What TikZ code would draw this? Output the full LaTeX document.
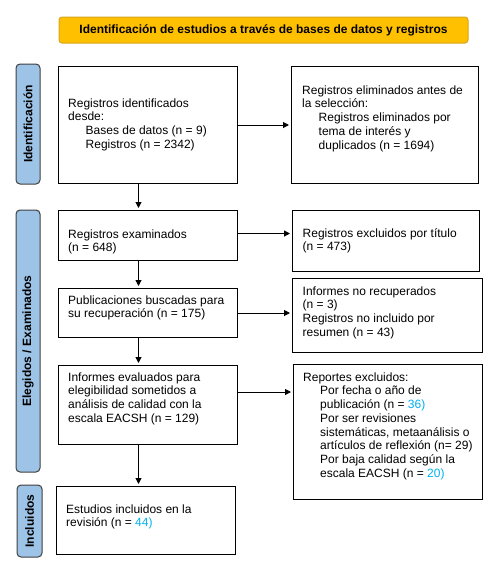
\documentclass[tikz,border=0pt]{standalone}
\usepackage{fontspec}
\setmainfont{Liberation Sans}
\usetikzlibrary{calc,arrows.meta}
\definecolor{sideblue}{HTML}{9DC3E6}
\definecolor{titleorange}{HTML}{FFC000}
\definecolor{titleedge}{HTML}{D9A520}
\definecolor{countblue}{HTML}{00B0F0}

\begin{document}
\begin{tikzpicture}[x=1pt,y=1pt,
    box/.style={draw,line width=1pt,inner sep=0pt,anchor=north west},
    txt/.style={anchor=base west,align=left,inner sep=0pt,font=\fontsize{12}{13.75}\selectfont},
    side/.style={draw=black!75,fill=sideblue,rounded corners=4pt,line width=1pt,rotate=90,inner sep=0pt,font=\fontsize{12}{14}\selectfont\bfseries},
    arr/.style={line width=1pt,-{Triangle[length=6pt,width=6pt]},shorten >=2pt}]
  \useasboundingbox (0,0) rectangle (496,-574);
  % title bar
  \node[draw=titleedge,fill=titleorange,rounded corners=3pt,line width=1pt,minimum width=409pt,minimum height=26pt,inner sep=0pt,font=\fontsize{12}{14}\selectfont\bfseries] (title) at (263.5,-30) {Identificación de estudios a través de bases de datos y registros};
  % phase labels
  \node[side,minimum width=120pt,minimum height=24pt] (phase1) at (28,-124) {Identificación};
  \node[side,minimum width=262pt,minimum height=24pt] (phase2) at (28,-341) {Elegidos / Examinados};
  \node[side,minimum width=72pt,minimum height=25pt] (phase3) at (29.5,-521) {Incluidos};
  % left column
  \node[box,minimum width=179pt,minimum height=117pt] (b1) at (58,-66) {};
  \node[box,minimum width=179pt,minimum height=50pt] (b2) at (58,-210) {};
  \node[box,minimum width=179pt,minimum height=49pt] (b3) at (58,-288) {};
  \node[box,minimum width=179pt,minimum height=79pt] (b4) at (58,-365) {};
  \node[box,minimum width=179pt,minimum height=68pt] (b5) at (56,-486) {};
  % right column
  \node[box,minimum width=187pt,minimum height=117pt] (r1) at (291,-66) {};
  \node[box,minimum width=187pt,minimum height=61pt] (r2) at (292,-210) {};
  \node[box,minimum width=190pt,minimum height=74pt] (r3) at (292,-278) {};
  \node[box,minimum width=189pt,minimum height=135pt] (r4) at (293,-364) {};
  % texts (anchored at the baseline of their last line)
  \node[txt] (b1t) at (68,-148.25) {Registros identificados\\desde:\\\hspace*{17.5pt}Bases de datos (n = 9)\\\hspace*{17.5pt}Registros (n = 2342)};
  \node[txt] (r1t) at (302,-149) {Registros eliminados antes de\\la selección:\\\hspace*{16.5pt}Registros eliminados por\\\hspace*{16.5pt}tema de interés y\\\hspace*{16.5pt}duplicados (n = 1694)};
  \node[txt] (b2t) at (68,-251.75) {Registros examinados\\(n = 648)};
  \node[txt] (r2t) at (302.5,-250.75) {Registros excluidos por título\\(n = 473)};
  \node[txt] (b3t) at (68,-317.75) {Publicaciones buscadas para\\su recuperación (n = 175)};
  \node[txt] (r3t) at (302.5,-336.25) {Informes no recuperados\\(n = 3)\\Registros no incluido por\\resumen (n = 43)};
  \node[txt] (b4t) at (68,-422.25) {Informes evaluados para\\elegibilidad sometidos a\\análisis de calidad con la\\escala EACSH (n = 129)};
  \node[txt] (r4t) at (303,-477.25) {Reportes excluidos:\\\hspace*{17pt}Por fecha o año de\\\hspace*{17pt}publicación (n = {\color{countblue}36)}\\\hspace*{17pt}Por ser revisiones\\\hspace*{17pt}sistemáticas, metaanálisis o\\\hspace*{17pt}artículos de reflexión (n= 29)\\\hspace*{17pt}Por baja calidad según la\\\hspace*{17pt}escala EACSH (n = {\color{countblue}20)}};
  \node[txt] (b5t) at (66,-526.75) {Estudios incluidos en la\\revisión (n = {\color{countblue}44)}};
  % connectors
  \coordinate (col) at (138.5,0);
  \draw[arr] (b1.south -| col) -- (b2.north -| col);
  \draw[arr] (b2.south -| col) -- (b3.north -| col);
  \draw[arr] (b3.south -| col) -- (b4.north -| col);
  \draw[arr] (b4.south -| col) -- (b5.north -| col);
  \draw[arr] (b1.east) -- (r1.west);
  \draw[arr] ([yshift=2pt]b2.east) -- ([yshift=2pt]b2.east -| r2.west);
  \draw[arr] (b3.east) -- (b3.east -| r3.west);
  \draw[arr] ([yshift=13pt]b4.east) -- ([yshift=13pt]b4.east -| r4.west);
\end{tikzpicture}
\end{document}
